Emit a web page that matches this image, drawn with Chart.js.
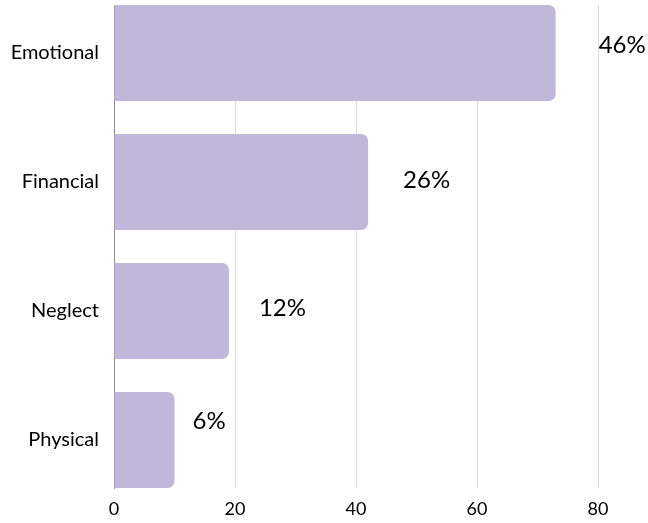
<!DOCTYPE html>
<html>
<head>
<meta charset="utf-8">
<script src="https://cdn.jsdelivr.net/npm/chart.js@4.4.1/dist/chart.umd.min.js"></script>
<style>
  html, body { margin: 0; padding: 0; background: #fff; }
  #wrap { width: 648px; height: 523px; }
</style>
</head>
<body>
<div id="wrap"><canvas id="abuse-chart"></canvas></div>
<script>
// ==================== DATA ====================
const categories = ["Emotional", "Financial", "Neglect", "Physical"];
const counts = [73, 42, 19, 10];
const shareLabels = ["46%", "26%", "12%", "6%"];
const xTicks = [0, 20, 40, 60, 80];

// per-label nudge (px) from the bar end / bar centre
const labelNudge = [[43, -8], [35, -2], [30, -3], [18, -19]];

const FONT = "Lato, 'Open Sans', sans-serif";

// ==================== PERCENT LABELS ====================
const shareLabelPlugin = {
    id: "shareLabels",
    afterDatasetsDraw(chart) {
        const ctx = chart.ctx;
        const meta = chart.getDatasetMeta(0);
        ctx.save();
        ctx.font = "24px " + FONT;
        ctx.fillStyle = "#000";
        ctx.textAlign = "left";
        ctx.textBaseline = "middle";
        meta.data.forEach((bar, i) => {
            const [dx, dy] = labelNudge[i];
            ctx.fillText(shareLabels[i], bar.x + dx, bar.y + dy);
        });
        ctx.restore();
    }
};

// ==================== CHART ====================
const ctx = document.getElementById("abuse-chart").getContext("2d");

new Chart(ctx, {
    type: "bar",
    data: {
        datasets: [
            {
                data: counts.map((v, i) => ({ x: v, y: i })),
                backgroundColor: "#bfb8da",
                borderWidth: 0,
                borderRadius: 7,
                categoryPercentage: 1,
                barPercentage: 0.744
            }
        ]
    },
    options: {
        indexAxis: "y",
        responsive: true,
        maintainAspectRatio: false,
        animation: false,
        layout: {
            padding: { top: 5, right: 50, left: 0, bottom: 0 }
        },
        plugins: {
            legend: { display: false },
            tooltip: { enabled: false }
        },
        scales: {
            x: {
                type: "linear",
                bounds: "data",
                min: 0,
                max: 80,
                afterBuildTicks: (scale) => {
                    scale.ticks = xTicks.map(v => ({ value: v }));
                },
                afterFit: (scale) => {
                    scale.height = 35;
                    scale.paddingLeft = 0;
                    scale.paddingRight = 0;
                },
                ticks: {
                    color: "#000",
                    padding: 10,
                    font: { family: FONT, size: 18 }
                },
                grid: {
                    color: (c) => (c.tick && c.tick.value === 0 ? "rgba(0,0,0,0)" : "#d9d9d9"),
                    drawTicks: false
                },
                border: { display: false }
            },
            y: {
                type: "linear",
                bounds: "data",
                reverse: true,
                offset: false,
                min: -0.372,
                max: 3.372,
                afterBuildTicks: (scale) => {
                    scale.ticks = categories.map((_, i) => ({ value: i }));
                },
                afterFit: (scale) => {
                    scale.width = 114;
                    scale.paddingTop = 0;
                    scale.paddingBottom = 0;
                },
                ticks: {
                    color: "#000",
                    padding: 15,
                    autoSkip: false,
                    font: { family: FONT, size: 20 },
                    callback: (value) => categories[value]
                },
                grid: { display: false, drawTicks: false },
                border: { display: true, color: "#8c8c8c", width: 1 }
            }
        }
    },
    plugins: [shareLabelPlugin]
});
</script>
</body>
</html>
